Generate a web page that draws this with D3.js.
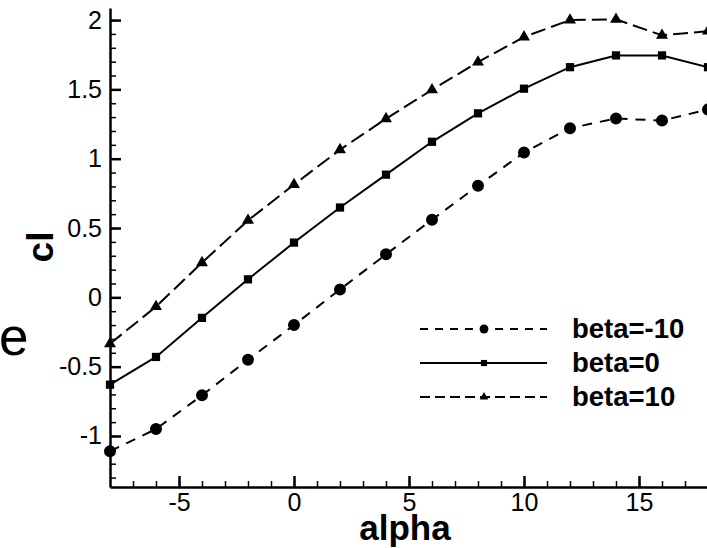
<!DOCTYPE html>
<html>
<head>
<meta charset="utf-8">
<script src="https://cdn.jsdelivr.net/npm/d3@7"></script>
<style>
  html, body { margin: 0; padding: 0; background: #fff; overflow: hidden; }
  svg { display: block; font-family: "Liberation Sans", Arial, Helvetica, sans-serif; }
</style>
</head>
<body>
<svg id="chart"></svg>
<script>
// data
const alpha = [-8, -6, -4, -2, 0, 2, 4, 6, 8, 10, 12, 14, 16, 18];
const clBetaM10 = [-1.11, -0.95, -0.707, -0.45, -0.20, 0.057, 0.31, 0.56, 0.805, 1.045, 1.22, 1.29, 1.275, 1.355];
const clBeta0 = [-0.63, -0.43, -0.148, 0.13, 0.395, 0.648, 0.885, 1.122, 1.327, 1.505, 1.66, 1.745, 1.745, 1.66];
const clBeta10 = [-0.335, -0.067, 0.25, 0.555, 0.813, 1.065, 1.288, 1.497, 1.697, 1.878, 2.0, 2.005, 1.89, 1.92];
const seriesNames = ["beta=-10", "beta=0", "beta=10"];
const xTicks = [-5, 0, 5, 10, 15];
const yTicks = [-1, -0.5, 0, 0.5, 1, 1.5, 2];

const width = 707, height = 548
const svg = d3.select("#chart").attr("width", width).attr("height", height)

let x = d3.scaleLinear().domain([-8, 18]).range([110, 708])
let y = d3.scaleLinear().domain([-1.368, 2.087]).range([487, 8])

// minor ticks first, then major axes on top
svg.append("g")
    .attr("transform", `translate(0,${y.range()[0]})`)
    .call(d3.axisBottom(x).tickValues(d3.range(-7, 19, 1)).tickSize(-6).tickSizeOuter(0).tickFormat(""))
    .call(g => g.select(".domain").remove())
    .call(g => g.selectAll("line").attr("stroke-width", 1.5))
svg.append("g")
    .attr("transform", `translate(${x.range()[0]},0)`)
    .call(d3.axisLeft(y).tickValues(d3.range(-13, 21, 1).map(d => d / 10)).tickSize(-6).tickSizeOuter(0).tickFormat(""))
    .call(g => g.select(".domain").remove())
    .call(g => g.selectAll("line").attr("stroke-width", 1.5))

let xAxis = g => g
    .attr("transform", `translate(0,${y.range()[0]})`)
    .call(d3.axisBottom(x).tickValues(xTicks).tickSize(-11).tickSizeOuter(0).tickPadding(6).tickFormat(d => String(d)))
    .call(g => g.select(".domain").attr("stroke-width", 2.5))
    .call(g => g.selectAll(".tick line").attr("stroke-width", 2.5))
    .call(g => g.selectAll("text").attr("font-size", 25).attr("font-family", null).attr("fill", "#000"))
let yAxis = g => g
    .attr("transform", `translate(${x.range()[0]},0)`)
    .call(d3.axisLeft(y).tickValues(yTicks).tickSize(-11).tickSizeOuter(0).tickPadding(8).tickFormat(d => String(d)))
    .call(g => g.select(".domain").attr("stroke-width", 2.5))
    .call(g => g.selectAll(".tick line").attr("stroke-width", 2.5))
    .call(g => g.selectAll("text").attr("font-size", 25).attr("font-family", null).attr("fill", "#000"))

svg.append("g").call(xAxis)
svg.append("g").call(yAxis)

const series = [
    {name: seriesNames[0], values: clBetaM10, dash: "10,8", legendDash: "8,7", marker: "circle"},
    {name: seriesNames[1], values: clBeta0, dash: null, legendDash: null, marker: "square"},
    {name: seriesNames[2], values: clBeta10, dash: "15,6", legendDash: "10,5", marker: "triangle"}
]

const symbolFor = (m, big) => {
    if (m === "circle") return d3.symbol(d3.symbolCircle, big ? 113 : 62)
    if (m === "square") return d3.symbol(d3.symbolSquare, big ? 68 : 38)
    return d3.symbol(d3.symbolTriangle, big ? 62 : 32)
}

let line = d3.line().x(d => x(d[0])).y(d => y(d[1]))

series.forEach(s => {
    let pts = alpha.map((a, i) => [a, s.values[i]])
    svg.append("path")
        .datum(pts)
        .attr("fill", "none")
        .attr("stroke", "#000")
        .attr("stroke-width", 2)
        .attr("stroke-dasharray", s.dash)
        .attr("d", line)
    svg.append("g")
        .selectAll("path")
        .data(pts)
        .join("path")
        .attr("transform", d => `translate(${x(d[0])},${y(d[1])})`)
        .attr("d", symbolFor(s.marker, true)())
        .attr("fill", "#000")
})

// legend
const legend = svg.append("g").attr("transform", "translate(420,329)")
series.forEach((s, i) => {
    let row = legend.append("g").attr("transform", `translate(0,${i * 34})`)
    row.append("line")
        .attr("x1", 0).attr("x2", 127)
        .attr("stroke", "#000").attr("stroke-width", 2)
        .attr("stroke-dasharray", s.legendDash)
    row.append("path")
        .attr("transform", "translate(64,0)")
        .attr("d", symbolFor(s.marker, false)())
        .attr("fill", "#000")
    row.append("text")
        .attr("x", 152).attr("y", 9)
        .attr("font-size", 27.5).attr("font-weight", "bold")
        .text(s.name)
})

// axis titles
svg.append("text")
    .attr("x", 405).attr("y", 540)
    .attr("text-anchor", "middle")
    .attr("font-size", 35).attr("font-weight", "bold")
    .text("alpha")
svg.append("text")
    .attr("transform", "translate(53,247) rotate(-90)")
    .attr("text-anchor", "middle")
    .attr("font-size", 37).attr("font-weight", "bold")
    .text("cl")
svg.append("text")
    .attr("x", -1).attr("y", 355)
    .attr("font-size", 53)
    .text("e")
</script>
</body>
</html>
